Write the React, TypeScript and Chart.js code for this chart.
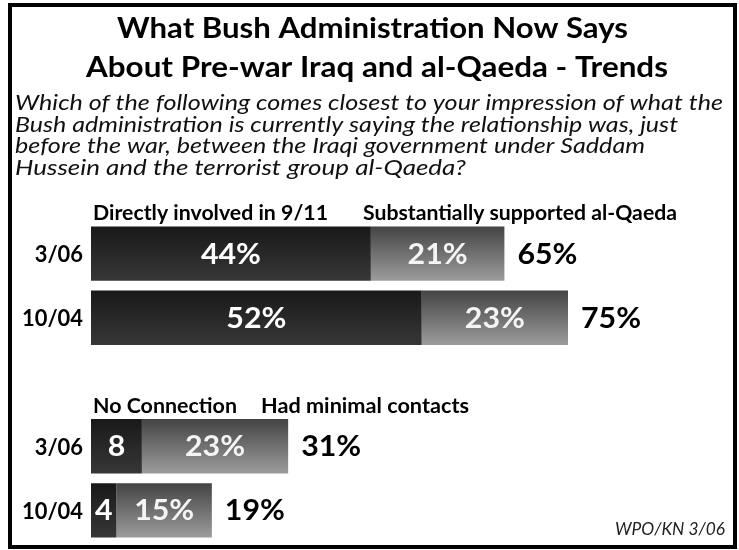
import React, { useEffect, useRef } from "react";
import { Chart, registerables } from "chart.js";

Chart.register(...registerables);

const categories = ["3/06", "10/04", "", "3/06", "10/04"];
const directlyInvolved = [44, 52, null, null, null];
const substantiallySupported = [21, 23, null, null, null];
const noConnection = [null, null, null, 8, 4];
const minimalContacts = [null, null, null, 23, 15];

const titleLines = [
  "What Bush Administration Now Says",
  "About Pre-war Iraq and al-Qaeda - Trends",
];
const subtitleLines = [
  "Which of the following comes closest to your impression of what the",
  "Bush administration is currently saying the relationship was, just",
  "before the war, between the Iraqi government under Saddam",
  "Hussein and the terrorist group al-Qaeda?",
];
const groupLabels = [
  ["Directly involved in 9/11", "Substantially supported al-Qaeda"],
  ["No Connection", "Had minimal contacts"],
];
const footnote = "WPO/KN 3/06";

const FAMILY = 'Lato, "Open Sans", "DejaVu Sans", sans-serif';

function drawText(
  ctx: CanvasRenderingContext2D,
  text: string,
  x: number,
  y: number,
  font: string,
  color: string,
  align: CanvasTextAlign,
  width?: number,
  sxFixed?: number
) {
  ctx.save();
  ctx.font = font;
  ctx.fillStyle = color;
  const w = ctx.measureText(text).width;
  const sx = sxFixed != null ? sxFixed : width ? width / w : 1;
  ctx.translate(x, y);
  ctx.scale(sx, 1);
  ctx.textAlign = align;
  ctx.textBaseline = "alphabetic";
  ctx.fillText(text, 0, 0);
  ctx.restore();
}

function scaleFor(ctx: CanvasRenderingContext2D, font: string, ref: string, target: number) {
  ctx.save();
  ctx.font = font;
  const w = ctx.measureText(ref).width;
  ctx.restore();
  return target / w;
}

const grad = (top: string, bottom: string) => (c: any) => {
  const chart = c.chart;
  if (!chart.chartArea || c.dataIndex == null || !chart.scales.y) return bottom;
  const y = chart.scales.y.getPixelForValue(c.dataIndex);
  const h = 27;
  const g = chart.ctx.createLinearGradient(0, y - h, 0, y + h);
  g.addColorStop(0, top);
  g.addColorStop(1, bottom);
  return g;
};

const decorPlugin = {
  id: "decor",
  afterDraw(chart: any) {
    const ctx: CanvasRenderingContext2D = chart.ctx;
    // border
    ctx.save();
    ctx.strokeStyle = "#000";
    ctx.lineWidth = 4;
    ctx.strokeRect(10, 5, 725, 542);
    ctx.restore();

    // title
    const tf = `bold 29px ${FAMILY}`;
    drawText(ctx, titleLines[0], 372.5, 38, tf, "#000", "center", 511);
    drawText(ctx, titleLines[1], 377, 77, tf, "#000", "center", 582);

    // subtitle
    const sf = `italic 21px ${FAMILY}`;
    const subW = [708, 663, 630, 451];
    const subY = [110, 131.5, 153, 174.5];
    subtitleLines.forEach((t, i) => drawText(ctx, t, 15, subY[i], sf, "#111", "left", subW[i]));

    // group labels
    const lf = `bold 21px ${FAMILY}`;
    drawText(ctx, groupLabels[0][0], 93, 220, lf, "#000", "left", 235);
    drawText(ctx, groupLabels[0][1], 363, 220, lf, "#000", "left", 314);
    drawText(ctx, groupLabels[1][0], 93, 413, lf, "#000", "left", 144);
    drawText(ctx, groupLabels[1][1], 261, 413, lf, "#000", "left", 208);

    // category labels
    const yScale = chart.scales.y;
    const cf = `bold 23px ${FAMILY}`;
    const csx = scaleFor(ctx, cf, "10/04", 61);
    categories.forEach((c, i) => {
      if (!c) return;
      const y = yScale.getPixelForValue(i);
      drawText(ctx, c, 83, y + 8.5, cf, "#000", "right", undefined, csx);
    });

    // value labels
    const vf = `bold 28px ${FAMILY}`;
    const vsx = scaleFor(ctx, vf, "65%", 60);
    const totals: number[] = categories.map(() => 0);
    const ends: number[] = categories.map(() => 0);
    chart.data.datasets.forEach((ds: any, di: number) => {
      const meta = chart.getDatasetMeta(di);
      meta.data.forEach((el: any, j: number) => {
        const v = ds.data[j];
        if (v == null) return;
        totals[j] += v;
        ends[j] = Math.max(ends[j], el.x);
        const cx = (el.x + el.base) / 2;
        const label = ds.showPercent ? `${v}%` : `${v}`;
        drawText(ctx, label, cx, el.y + 10, vf, ds.labelColor, "center", undefined, vsx);
      });
    });
    totals.forEach((t, j) => {
      if (!t) return;
      const y = yScale.getPixelForValue(j);
      drawText(ctx, `${t}%`, ends[j] + 13, y + 10, vf, "#000", "left", undefined, vsx);
    });

    // footnote
    drawText(ctx, footnote, 725, 535, `italic 17px ${FAMILY}`, "#222", "right", 110);
  },
};

export default function App() {
  const ref = useRef<HTMLCanvasElement | null>(null);
  useEffect(() => {
    if (!ref.current) return;
    const chart = new Chart(ref.current, {
      type: "bar",
      data: {
        labels: categories,
        datasets: [
          {
            label: groupLabels[0][0],
            data: directlyInvolved,
            backgroundColor: grad("#191919", "#373737"),
            showPercent: true,
            labelColor: "#ffffff",
          } as any,
          {
            label: groupLabels[0][1],
            data: substantiallySupported,
            backgroundColor: grad("#444444", "#9c9c9c"),
            showPercent: true,
            labelColor: "#f4f4f4",
          } as any,
          {
            label: groupLabels[1][0],
            data: noConnection,
            backgroundColor: grad("#191919", "#373737"),
            showPercent: false,
            labelColor: "#ffffff",
          } as any,
          {
            label: groupLabels[1][1],
            data: minimalContacts,
            backgroundColor: grad("#444444", "#9c9c9c"),
            showPercent: true,
            labelColor: "#f4f4f4",
          } as any,
        ],
      },
      options: {
        indexAxis: "y",
        animation: false,
        responsive: true,
        maintainAspectRatio: false,
        devicePixelRatio: 1,
        layout: { padding: { left: 91, right: 12, top: 221.4, bottom: 7.4 } },
        datasets: { bar: { barPercentage: 0.845, categoryPercentage: 1, borderWidth: 0 } },
        scales: {
          x: { stacked: true, min: 0, max: 100, display: false },
          y: { stacked: true, display: false },
        },
        plugins: {
          legend: { display: false },
          tooltip: { enabled: false },
          title: { display: false },
        },
      },
      plugins: [decorPlugin],
    });
    return () => chart.destroy();
  }, []);
  return (
    <div style={{ position: "absolute", left: 0, top: 0, width: 739, height: 550, background: "#fff" }}>
      <canvas ref={ref} />
    </div>
  );
}
